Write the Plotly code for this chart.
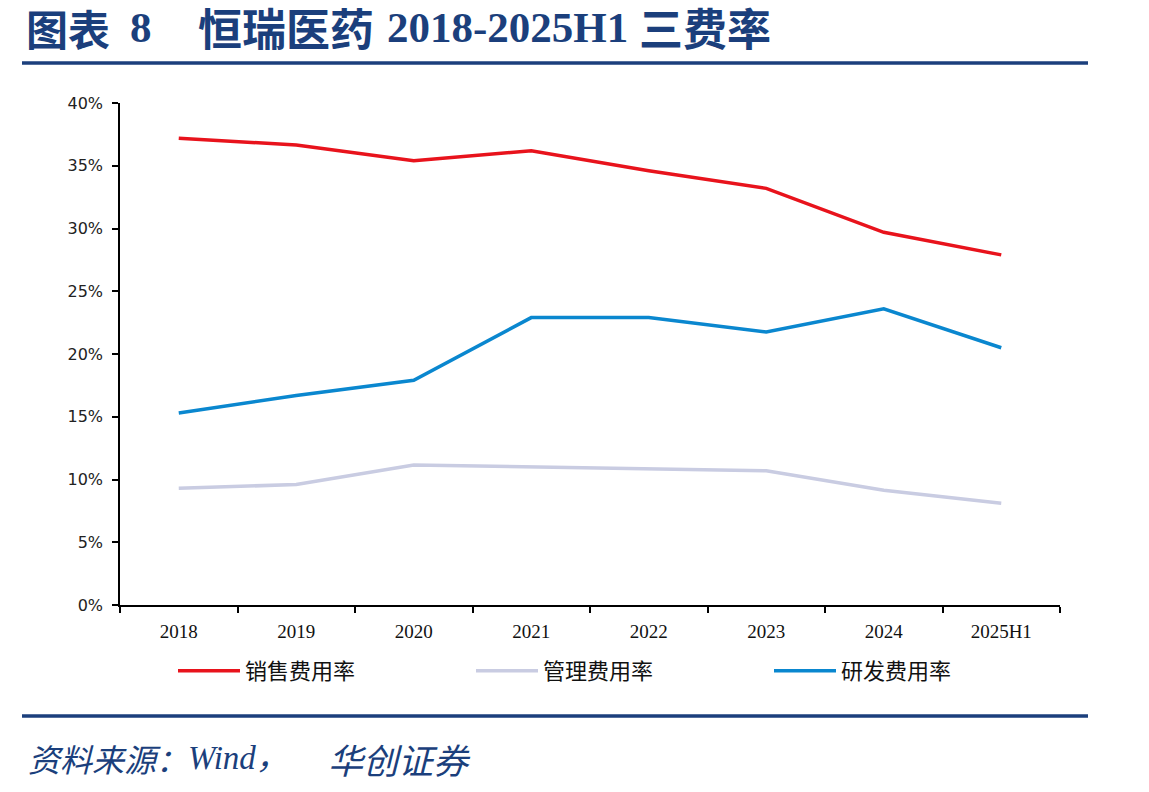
import plotly.graph_objects as go

categories = ["2018", "2019", "2020", "2021", "2022", "2023", "2024", "2025H1"]
sales_rate = [0.372, 0.3665, 0.354, 0.362, 0.346, 0.332, 0.297, 0.279]
admin_rate = [0.093, 0.096, 0.1115, 0.110, 0.1085, 0.107, 0.0915, 0.081]
rd_rate = [0.153, 0.167, 0.179, 0.229, 0.229, 0.2175, 0.236, 0.205]
series_names = ["销售费用率", "管理费用率", "研发费用率"]
y_ticks = [0, 0.05, 0.10, 0.15, 0.20, 0.25, 0.30, 0.35, 0.40]

W, H = 1149, 792
L, R, T, B = 120, 1060, 103, 605


def px(x):
    return (x - L) / (R - L)


def py(y):
    return (B - y) / (B - T)


fig = go.Figure()
colors = ["#E8131C", "#C9CCE2", "#0A87CF"]
legend_ids = ["legend", "legend2", "legend3"]
legend_x = [173, 471, 769]
for name, vals, c, lg in zip(series_names, [sales_rate, admin_rate, rd_rate], colors, legend_ids):
    fig.add_trace(go.Scatter(x=categories, y=vals, name=name, mode="lines",
                             line=dict(color=c, width=3.5), legend=lg))

legend_common = dict(orientation="h", yanchor="middle", xanchor="left",
                     font=dict(family="Noto Sans CJK SC", size=22, color="#111"),
                     bgcolor="rgba(0,0,0,0)", itemwidth=62)
fig.update_layout(
    width=W, height=H,
    margin=dict(l=L, r=W - R, t=T, b=H - B),
    paper_bgcolor="white", plot_bgcolor="white",
    showlegend=True,
    legend=dict(x=px(legend_x[0]), y=py(671), **legend_common),
    legend2=dict(x=px(legend_x[1]), y=py(671), **legend_common),
    legend3=dict(x=px(legend_x[2]), y=py(671), **legend_common),
    xaxis=dict(type="category", showgrid=False, showline=True, linecolor="#000",
               linewidth=1.5, ticks="outside", tickson="boundaries", ticklen=6,
               tickcolor="#000", tickwidth=1.5, ticklabelstandoff=8,
               tickfont=dict(family="Liberation Serif", size=19, color="#111"),
               range=[-0.5, 7.5], fixedrange=True),
    yaxis=dict(range=[0, 0.40], tickvals=y_ticks, tickformat=".0%", showgrid=False,
               showline=True, linecolor="#000", linewidth=1.5, ticks="outside",
               ticklen=6, tickcolor="#000", tickwidth=1.5, zeroline=False,
               ticklabelstandoff=6,
               tickfont=dict(family="DejaVu Sans", size=16, color="#222"),
               fixedrange=True),
)

title_color = "#1B3F7C"
title_parts = [
    ("图表", 24, "Noto Sans CJK SC", 42),
    ("8", 128, "Liberation Serif", 43),
    ("恒瑞医药", 196, "Noto Sans CJK SC", 44),
    ("2018-2025H1", 385, "Liberation Serif", 43),
    ("三费率", 637, "Noto Sans CJK SC", 44),
]
for txt, x0, fam, sz in title_parts:
    fig.add_annotation(x=px(x0), y=py(27), xref="paper", yref="paper", xanchor="left",
                       yanchor="middle", showarrow=False, text="<b>" + txt + "</b>",
                       height=46, valign="middle",
                       font=dict(family=fam, size=sz, color=title_color))

source_parts = [
    ("资料来源：", 26, "Noto Sans CJK SC", 32),
    ("Wind，", 186, "Liberation Serif, Noto Sans CJK SC", 33),
    ("华创证券", 326, "Noto Sans CJK SC", 35),
]
for txt, x0, fam, sz in source_parts:
    fig.add_annotation(x=px(x0), y=py(758), xref="paper", yref="paper", xanchor="left",
                       yanchor="middle", showarrow=False, text="<i>" + txt + "</i>",
                       font=dict(family=fam, size=sz, color=title_color))

for yy in (63, 716):
    fig.add_shape(type="line", xref="paper", yref="paper", x0=px(22), x1=px(1088),
                  y0=py(yy), y1=py(yy), line=dict(color=title_color, width=3.5))

fig.write_html("out.html")
